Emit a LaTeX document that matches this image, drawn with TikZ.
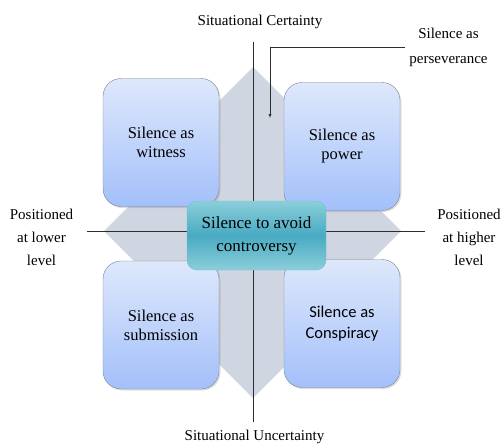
\documentclass[tikz,border=0pt]{standalone}
\usepackage{fontspec}
\setmainfont{Liberation Serif}
\newfontfamily\calfont{Carlito}
\usepackage{tikz}
\usetikzlibrary{shadows}
\definecolor{bandgray}{RGB}{208,213,226}
\definecolor{boxtop}{RGB}{222,232,252}
\definecolor{boxbot}{RGB}{163,192,250}
\definecolor{boxline}{RGB}{125,128,140}
\definecolor{tealpale}{RGB}{140,206,218}
\definecolor{tealdark}{RGB}{72,170,194}
\definecolor{tealline}{RGB}{112,192,208}
\definecolor{axisline}{RGB}{45,45,45}

\begin{document}
\begin{tikzpicture}[x=1pt,y=-1pt,
    quad/.style={draw=boxline,rounded corners=18pt,top color=boxtop,bottom color=boxbot,
      minimum width=116pt,minimum height=128pt,align=center,
      font=\fontsize{16.5}{19}\selectfont,
      drop shadow={opacity=0.25,shadow xshift=1.5pt,shadow yshift=-1.5pt}},
    hub/.style={draw=tealline,rounded corners=10pt,top color=tealpale,bottom color=tealpale,
      middle color=tealdark,minimum width=139pt,minimum height=69pt,align=center,
      font=\fontsize{17}{23}\selectfont},
    lab/.style={align=center,inner sep=4pt,font=\fontsize{15}{23}\selectfont}]
  \useasboundingbox (0,0) rectangle (501,444);

  \fill[bandgray] (253,67) -- (303,117) -- (303,348) -- (253,398) -- (203,348) -- (203,117) -- cycle;
  \fill[bandgray] (104,231) -- (154,181) -- (351,181) -- (401,231) -- (351,281) -- (154,281) -- cycle;

  \node[lab] (cert) at (260,22) {Situational Certainty};
  \node[lab] (uncert) at (254.5,437) {Situational Uncertainty};
  \node[lab] (lower) at (41.5,237) {Positioned\\at lower\\level};
  \node[lab] (higher) at (469,237) {Positioned\\at higher\\level};
  \node[lab,font=\fontsize{15}{25}\selectfont] (persev) at (448.5,47.5) {Silence as\\perseverance};

  \coordinate (vtop) at (253,42);
  \coordinate (vbot) at (253,422);
  \coordinate (hleft) at (87,231);
  \coordinate (hright) at (425,231);
  \coordinate (aim) at (270,118);
  \draw[axisline] (vtop) -- (vbot);
  \draw[axisline] (hleft) -- (hright);
  \draw[axisline,-latex] (persev.west) -| (aim);

  \node[quad] (witness) at (161,142.5) {Silence as\\witness};
  \node[quad] (power) at (342,146.5) {Silence as\\power};
  \node[quad] (submission) at (161,325) {Silence as\\submission};
  \node[quad,font=\calfont\fontsize{16.5}{21}\selectfont] (conspiracy) at (342,323.5) {Silence as\\Conspiracy};
  \node[hub] (avoid) at (256.5,235.5) {Silence to avoid\\controversy};
\end{tikzpicture}
\end{document}
